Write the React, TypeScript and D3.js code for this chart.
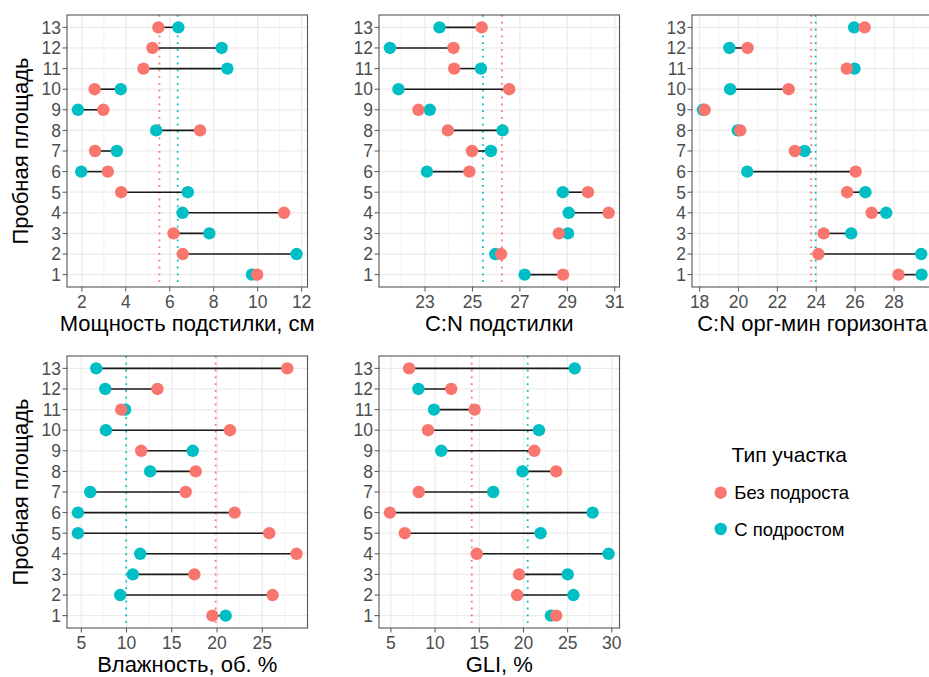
import React from 'react';
import * as d3 from 'd3';

// пробные площади 1..13
const sites = [1, 2, 3, 4, 5, 6, 7, 8, 9, 10, 11, 12, 13];

// Мощность подстилки, см
const depthNo = [9.98, 6.59, 6.17, 11.2, 3.79, 3.18, 2.6, 7.38, 2.98, 2.58, 4.8, 5.21, 5.48];
const depthWith = [9.74, 11.77, 7.8, 6.58, 6.82, 1.97, 3.59, 5.38, 1.82, 3.77, 8.62, 8.36, 6.39];
const depthMeans = [5.53, 6.36];
const depthTicks = [2, 4, 6, 8, 10, 12];

// C:N подстилки
const litterCNNo = [28.82, 26.21, 28.64, 30.74, 29.87, 24.87, 24.98, 23.96, 22.72, 26.55, 24.23, 24.2, 25.39];
const litterCNWith = [27.2, 25.96, 29.03, 29.06, 28.81, 23.08, 25.78, 26.27, 23.2, 21.88, 25.36, 21.52, 23.61];
const litterCNMeans = [26.24, 25.44];
const litterCNTicks = [23, 25, 27, 29, 31];

// C:N орг-мин горизонта
const horizonCNNo = [28.23, 24.11, 24.38, 26.85, 25.59, 26.03, 22.9, 20.09, 18.26, 22.58, 25.57, 20.47, 26.49];
const horizonCNWith = [29.42, 29.4, 25.8, 27.6, 26.53, 20.45, 23.4, 19.96, 18.17, 19.57, 25.97, 19.53, 25.95];
const horizonCNMeans = [23.74, 23.97];
const horizonCNTicks = [18, 20, 22, 24, 26, 28, 30];

// Влажность, об. %
const moistureNo = [19.49, 26.14, 17.5, 28.79, 25.77, 21.95, 16.54, 17.65, 11.62, 21.43, 9.41, 13.42, 27.76];
const moistureWith = [20.96, 9.3, 10.7, 11.51, 4.63, 4.63, 5.99, 12.61, 17.32, 7.72, 9.85, 7.65, 6.65];
const moistureMeans = [19.85, 9.96];
const moistureTicks = [5, 10, 15, 20, 25];

// GLI, %
const gliNo = [23.7, 19.28, 19.5, 14.71, 6.57, 4.89, 8.15, 23.7, 21.23, 9.2, 14.48, 11.82, 7.06];
const gliWith = [23.1, 25.65, 25.01, 29.63, 21.94, 27.83, 16.58, 19.88, 10.7, 21.75, 9.87, 8.11, 25.8];
const gliMeans = [14.15, 20.48];
const gliTicks = [5, 10, 15, 20, 25, 30];

const groups = ['Без подроста', 'С подростом'];
const colNo = '#F8766D';
const colWith = '#00BFC4';
const FONT = '"Liberation Sans", Arial, sans-serif';

function Panel({ left, right, top, bottom, no, wi, means, ticks, title }) {
  const [lo, hi] = d3.extent([...no, ...wi]);
  const pad = (hi - lo) * 0.05;
  const x = d3.scaleLinear().domain([lo - pad, hi + pad]).range([left, right]);
  const y = d3.scaleLinear().domain([0.4, 13.6]).range([bottom, top]);
  const inside = (v) => v >= lo - pad && v <= hi + pad;
  const step = ticks[1] - ticks[0];
  const ext = [ticks[0] - step, ...ticks, ticks[ticks.length - 1] + step];
  const minor = d3.pairs(ext).map(([a, b]) => (a + b) / 2).filter(inside);
  const major = ticks.filter(inside);

  return (
    <g>
      <rect x={left} y={top} width={right - left} height={bottom - top} fill="#fff" />
      {minor.map((v) => (
        <line key={'m' + v} x1={x(v)} x2={x(v)} y1={top} y2={bottom} stroke="#EBEBEB" strokeWidth={0.6} />
      ))}
      {major.map((v) => (
        <line key={'M' + v} x1={x(v)} x2={x(v)} y1={top} y2={bottom} stroke="#EBEBEB" strokeWidth={1.2} />
      ))}
      {sites.map((s) => (
        <line key={'h' + s} x1={left} x2={right} y1={y(s)} y2={y(s)} stroke="#EBEBEB" strokeWidth={1.2} />
      ))}
      {means.map((m, i) => (
        <line key={'mean' + i} x1={x(m)} x2={x(m)} y1={top} y2={bottom}
          stroke={i === 0 ? colNo : colWith} strokeWidth={1.8} strokeDasharray="1.8 5" />
      ))}
      {sites.map((s, i) => (
        <line key={'s' + s} x1={x(no[i])} x2={x(wi[i])} y1={y(s)} y2={y(s)} stroke="#1a1a1a" strokeWidth={1.6} />
      ))}
      {sites.map((s, i) => (
        <circle key={'w' + s} cx={x(wi[i])} cy={y(s)} r={6.2} fill={colWith} />
      ))}
      {sites.map((s, i) => (
        <circle key={'n' + s} cx={x(no[i])} cy={y(s)} r={6.2} fill={colNo} />
      ))}
      <rect x={left} y={top} width={right - left} height={bottom - top} fill="none" stroke="#555" strokeWidth={1.1} />
      {/* y axis */}
      {sites.map((s) => (
        <g key={'yt' + s}>
          <line x1={left - 4.5} x2={left} y1={y(s)} y2={y(s)} stroke="#555" strokeWidth={1} />
          <text x={left - 6} y={y(s)} dy="0.36em" textAnchor="end" fontSize={17.5} fill="#4D4D4D" fontFamily={FONT}>{s}</text>
        </g>
      ))}
      {/* x axis */}
      {major.map((v) => (
        <g key={'xt' + v}>
          <line x1={x(v)} x2={x(v)} y1={bottom} y2={bottom + 4.5} stroke="#555" strokeWidth={1} />
          <text x={x(v)} y={bottom + 20.5} textAnchor="middle" fontSize={17.5} fill="#4D4D4D" fontFamily={FONT}>{v}</text>
        </g>
      ))}
      <text x={(left + right) / 2} y={bottom + 44} textAnchor="middle" fontSize={22} fill="#000" fontFamily={FONT}>{title}</text>
    </g>
  );
}

export default function App() {
  const W = 929;
  const H = 677;
  const cols = [[67, 307.5], [379, 619.5], [692, 932.5]];
  const rows = [[15, 287], [356, 628]];

  return (
    <svg width={W} height={H} style={{ position: 'absolute', left: 0, top: 0, background: '#fff' }}>
      <rect width={W} height={H} fill="#fff" />
      <Panel left={cols[0][0]} right={cols[0][1]} top={rows[0][0]} bottom={rows[0][1]}
        no={depthNo} wi={depthWith} means={depthMeans} ticks={depthTicks} title="Мощность подстилки, см" />
      <Panel left={cols[1][0]} right={cols[1][1]} top={rows[0][0]} bottom={rows[0][1]}
        no={litterCNNo} wi={litterCNWith} means={litterCNMeans} ticks={litterCNTicks} title="C:N подстилки" />
      <Panel left={cols[2][0]} right={cols[2][1]} top={rows[0][0]} bottom={rows[0][1]}
        no={horizonCNNo} wi={horizonCNWith} means={horizonCNMeans} ticks={horizonCNTicks} title="C:N орг-мин горизонта" />
      <Panel left={cols[0][0]} right={cols[0][1]} top={rows[1][0]} bottom={rows[1][1]}
        no={moistureNo} wi={moistureWith} means={moistureMeans} ticks={moistureTicks} title="Влажность, об. %" />
      <Panel left={cols[1][0]} right={cols[1][1]} top={rows[1][0]} bottom={rows[1][1]}
        no={gliNo} wi={gliWith} means={gliMeans} ticks={gliTicks} title="GLI, %" />

      {rows.map(([t, b], i) => (
        <text key={'yl' + i} transform={`translate(27.5,${(t + b) / 2}) rotate(-90)`} textAnchor="middle"
          fontSize={22} fill="#000" fontFamily={FONT}>Пробная площадь</text>
      ))}

      {/* legend */}
      <text x={731.5} y={461.5} fontSize={21} fill="#000" fontFamily={FONT}>Тип участка</text>
      {groups.map((g, i) => (
        <g key={g} transform={`translate(0,${i === 0 ? 492.7 : 529})`}>
          <circle cx={720.7} cy={0} r={6.2} fill={i === 0 ? colNo : colWith} />
          <text x={734.3} y={0} dy="0.36em" fontSize={18.5} fill="#000" fontFamily={FONT}>{g}</text>
        </g>
      ))}
    </svg>
  );
}
